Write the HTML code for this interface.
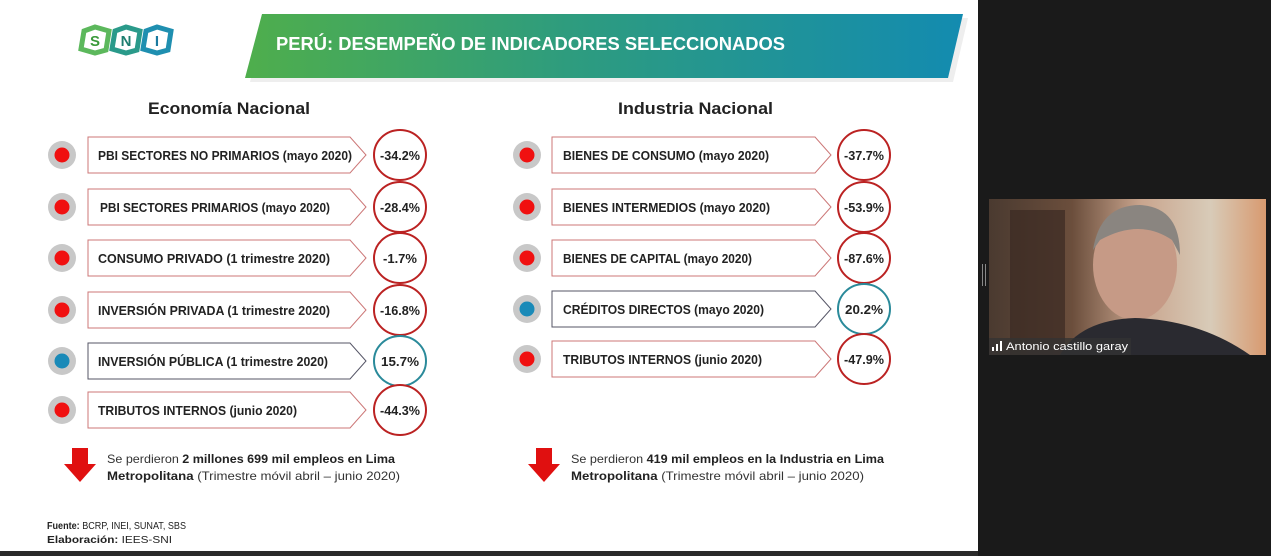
<!DOCTYPE html>
<html><head><meta charset="utf-8"><style>
html,body{margin:0;padding:0;width:1271px;height:556px;overflow:hidden;background:#fff}
svg{display:block}
text{font-family:"Liberation Sans",sans-serif}
</style></head><body>
<svg width="1271" height="556" viewBox="0 0 1271 556" xmlns="http://www.w3.org/2000/svg">
<defs>
<linearGradient id="bn" x1="0" x2="1" y1="0" y2="0">
<stop offset="0" stop-color="#4fae4c"/><stop offset="0.45" stop-color="#2e9c7e"/><stop offset="1" stop-color="#138bb0"/></linearGradient>
<linearGradient id="vid" x1="0" x2="1" y1="0" y2="0">
<stop offset="0" stop-color="#4a3a30"/><stop offset="0.3" stop-color="#6b4e3c"/><stop offset="0.55" stop-color="#c9a58e"/><stop offset="0.8" stop-color="#d8cbb8"/><stop offset="1" stop-color="#d89a70"/></linearGradient>
</defs>
<rect width="978" height="556" fill="#fff"/>
<rect x="978" width="293" height="556" fill="#1a1a1a"/>
<rect x="0" y="551" width="978" height="5" fill="#2a2a2a"/>
<!-- logo -->
<g fill="none" stroke-width="5">
<path d="M84 31 L95 27 L109 31 L106 50 L95 53 L81 49 Z" stroke="#5cb85c"/>
<path d="M115 31 L126 27 L140 31 L137 50 L126 53 L112 49 Z" stroke="#2a9a8a"/>
<path d="M146 31 L157 27 L171 31 L168 50 L157 53 L143 49 Z" stroke="#1f8fb0"/>
</g>
<text x="95" y="46" font-size="15" font-weight="bold" fill="#3a9a3a" text-anchor="middle">S</text>
<text x="126" y="46" font-size="15" font-weight="bold" fill="#1e7e70" text-anchor="middle">N</text>
<text x="157" y="46" font-size="15" font-weight="bold" fill="#1a7aa0" text-anchor="middle">I</text>
<!-- banner -->
<polygon points="250,82 953,82 968,18 266,18" fill="#eee"/>
<polygon points="245,78 948,78 963,14 262,14" fill="url(#bn)"/>
<text x="276" y="50" font-size="18" font-weight="bold" fill="#fff" textLength="509" lengthAdjust="spacingAndGlyphs">PERÚ: DESEMPEÑO DE INDICADORES SELECCIONADOS</text>
<text x="148" y="114" font-size="17" font-weight="bold" fill="#222" textLength="162" lengthAdjust="spacingAndGlyphs">Economía Nacional</text>
<text x="618" y="114" font-size="17" font-weight="bold" fill="#222" textLength="155" lengthAdjust="spacingAndGlyphs">Industria Nacional</text>
<g font-weight="bold" fill="#222">
<circle cx="62" cy="155" r="14" fill="#c8c8c8"/><circle cx="62" cy="155" r="7.5" fill="#f01010"/>
<polygon points="88,137 350,137 366,155 350,173 88,173" fill="#fff" stroke="#c77" stroke-width="1"/>
<text x="98" y="160" font-size="12.5" textLength="254" lengthAdjust="spacingAndGlyphs">PBI SECTORES NO PRIMARIOS (mayo 2020)</text>
<ellipse cx="400" cy="155" rx="26" ry="25" fill="#fff" stroke="#b22" stroke-width="2"/><text x="400" y="160" font-size="13" text-anchor="middle" textLength="40" lengthAdjust="spacingAndGlyphs">-34.2%</text>

<circle cx="62" cy="207" r="14" fill="#c8c8c8"/><circle cx="62" cy="207" r="7.5" fill="#f01010"/>
<polygon points="88,189 350,189 366,207 350,225 88,225" fill="#fff" stroke="#c77" stroke-width="1"/>
<text x="100" y="212" font-size="12.5" textLength="230" lengthAdjust="spacingAndGlyphs">PBI SECTORES PRIMARIOS (mayo 2020)</text>
<ellipse cx="400" cy="207" rx="26" ry="25" fill="#fff" stroke="#b22" stroke-width="2"/><text x="400" y="212" font-size="13" text-anchor="middle" textLength="40" lengthAdjust="spacingAndGlyphs">-28.4%</text>

<circle cx="62" cy="258" r="14" fill="#c8c8c8"/><circle cx="62" cy="258" r="7.5" fill="#f01010"/>
<polygon points="88,240 350,240 366,258 350,276 88,276" fill="#fff" stroke="#c77" stroke-width="1"/>
<text x="98" y="263" font-size="12.5" textLength="232" lengthAdjust="spacingAndGlyphs">CONSUMO PRIVADO (1 trimestre 2020)</text>
<ellipse cx="400" cy="258" rx="26" ry="25" fill="#fff" stroke="#b22" stroke-width="2"/><text x="400" y="263" font-size="13" text-anchor="middle">-1.7%</text>

<circle cx="62" cy="310" r="14" fill="#c8c8c8"/><circle cx="62" cy="310" r="7.5" fill="#f01010"/>
<polygon points="88,292 350,292 366,310 350,328 88,328" fill="#fff" stroke="#c77" stroke-width="1"/>
<text x="98" y="315" font-size="12.5" textLength="232" lengthAdjust="spacingAndGlyphs">INVERSIÓN PRIVADA (1 trimestre 2020)</text>
<ellipse cx="400" cy="310" rx="26" ry="25" fill="#fff" stroke="#b22" stroke-width="2"/><text x="400" y="315" font-size="13" text-anchor="middle" textLength="40" lengthAdjust="spacingAndGlyphs">-16.8%</text>

<circle cx="62" cy="361" r="14" fill="#c8c8c8"/><circle cx="62" cy="361" r="7.5" fill="#1a8ab8"/>
<polygon points="88,343 350,343 366,361 350,379 88,379" fill="#fff" stroke="#556" stroke-width="1"/>
<text x="98" y="366" font-size="12.5" textLength="230" lengthAdjust="spacingAndGlyphs">INVERSIÓN PÚBLICA (1 trimestre 2020)</text>
<ellipse cx="400" cy="361" rx="26" ry="25" fill="#fff" stroke="#2a8a9a" stroke-width="2"/><text x="400" y="366" font-size="13" text-anchor="middle" textLength="38" lengthAdjust="spacingAndGlyphs">15.7%</text>

<circle cx="62" cy="410" r="14" fill="#c8c8c8"/><circle cx="62" cy="410" r="7.5" fill="#f01010"/>
<polygon points="88,392 350,392 366,410 350,428 88,428" fill="#fff" stroke="#c77" stroke-width="1"/>
<text x="98" y="415" font-size="12.5" textLength="199" lengthAdjust="spacingAndGlyphs">TRIBUTOS INTERNOS (junio 2020)</text>
<ellipse cx="400" cy="410" rx="26" ry="25" fill="#fff" stroke="#b22" stroke-width="2"/><text x="400" y="415" font-size="13" text-anchor="middle" textLength="40" lengthAdjust="spacingAndGlyphs">-44.3%</text>

<circle cx="527" cy="155" r="14" fill="#c8c8c8"/><circle cx="527" cy="155" r="7.5" fill="#f01010"/>
<polygon points="552,137 815,137 831,155 815,173 552,173" fill="#fff" stroke="#c77" stroke-width="1"/>
<text x="563" y="160" font-size="12.5" textLength="206" lengthAdjust="spacingAndGlyphs">BIENES DE CONSUMO (mayo 2020)</text>
<ellipse cx="864" cy="155" rx="26" ry="25" fill="#fff" stroke="#b22" stroke-width="2"/><text x="864" y="160" font-size="13" text-anchor="middle" textLength="40" lengthAdjust="spacingAndGlyphs">-37.7%</text>

<circle cx="527" cy="207" r="14" fill="#c8c8c8"/><circle cx="527" cy="207" r="7.5" fill="#f01010"/>
<polygon points="552,189 815,189 831,207 815,225 552,225" fill="#fff" stroke="#c77" stroke-width="1"/>
<text x="563" y="212" font-size="12.5" textLength="207" lengthAdjust="spacingAndGlyphs">BIENES INTERMEDIOS (mayo 2020)</text>
<ellipse cx="864" cy="207" rx="26" ry="25" fill="#fff" stroke="#b22" stroke-width="2"/><text x="864" y="212" font-size="13" text-anchor="middle" textLength="40" lengthAdjust="spacingAndGlyphs">-53.9%</text>

<circle cx="527" cy="258" r="14" fill="#c8c8c8"/><circle cx="527" cy="258" r="7.5" fill="#f01010"/>
<polygon points="552,240 815,240 831,258 815,276 552,276" fill="#fff" stroke="#c77" stroke-width="1"/>
<text x="563" y="263" font-size="12.5" textLength="189" lengthAdjust="spacingAndGlyphs">BIENES DE CAPITAL (mayo 2020)</text>
<ellipse cx="864" cy="258" rx="26" ry="25" fill="#fff" stroke="#b22" stroke-width="2"/><text x="864" y="263" font-size="13" text-anchor="middle" textLength="40" lengthAdjust="spacingAndGlyphs">-87.6%</text>

<circle cx="527" cy="309" r="14" fill="#c8c8c8"/><circle cx="527" cy="309" r="7.5" fill="#1a8ab8"/>
<polygon points="552,291 815,291 831,309 815,327 552,327" fill="#fff" stroke="#556" stroke-width="1"/>
<text x="563" y="314" font-size="12.5" textLength="201" lengthAdjust="spacingAndGlyphs">CRÉDITOS DIRECTOS (mayo  2020)</text>
<ellipse cx="864" cy="309" rx="26" ry="25" fill="#fff" stroke="#2a8a9a" stroke-width="2"/><text x="864" y="314" font-size="13" text-anchor="middle" textLength="38" lengthAdjust="spacingAndGlyphs">20.2%</text>

<circle cx="527" cy="359" r="14" fill="#c8c8c8"/><circle cx="527" cy="359" r="7.5" fill="#f01010"/>
<polygon points="552,341 815,341 831,359 815,377 552,377" fill="#fff" stroke="#c77" stroke-width="1"/>
<text x="563" y="364" font-size="12.5" textLength="199" lengthAdjust="spacingAndGlyphs">TRIBUTOS INTERNOS (junio 2020)</text>
<ellipse cx="864" cy="359" rx="26" ry="25" fill="#fff" stroke="#b22" stroke-width="2"/><text x="864" y="364" font-size="13" text-anchor="middle" textLength="40" lengthAdjust="spacingAndGlyphs">-47.9%</text>
</g>
<!-- arrows -->
<polygon points="72,448 88,448 88,464 96,464 80,482 64,464 72,464" fill="#e01010"/>
<polygon points="536,448 552,448 552,464 560,464 544,482 528,464 536,464" fill="#e01010"/>
<g font-size="12" fill="#333">
<text x="107" y="463" textLength="288" lengthAdjust="spacingAndGlyphs">Se perdieron <tspan font-weight="bold" fill="#222">2 millones 699 mil empleos en Lima</tspan></text>
<text x="107" y="480" textLength="293" lengthAdjust="spacingAndGlyphs"><tspan font-weight="bold" fill="#222">Metropolitana</tspan> (Trimestre móvil abril – junio 2020)</text>
<text x="571" y="463" textLength="313" lengthAdjust="spacingAndGlyphs">Se perdieron <tspan font-weight="bold" fill="#222">419 mil empleos en la Industria en Lima</tspan></text>
<text x="571" y="480" textLength="293" lengthAdjust="spacingAndGlyphs"><tspan font-weight="bold" fill="#222">Metropolitana</tspan> (Trimestre móvil abril – junio 2020)</text>
</g>
<g font-size="10" fill="#222">
<text x="47" y="529" textLength="139" lengthAdjust="spacingAndGlyphs"><tspan font-weight="bold">Fuente:</tspan> BCRP, INEI, SUNAT, SBS</text>
<text x="47" y="543" textLength="125" lengthAdjust="spacingAndGlyphs"><tspan font-weight="bold">Elaboración:</tspan> IEES-SNI</text>
</g>
<!-- video -->
<rect x="989" y="199" width="277" height="156" fill="url(#vid)"/>
<rect x="1010" y="210" width="55" height="145" fill="#3a2a22" opacity="0.7"/>
<ellipse cx="1135" cy="265" rx="42" ry="55" fill="#c69a86"/>
<path d="M1093 250 Q1100 205 1140 205 Q1180 207 1180 255 L1172 240 Q1140 218 1100 240 Z" fill="#8a8580"/>
<path d="M1060 355 Q1080 320 1135 318 Q1200 320 1250 355 Z" fill="#2a2a30"/>
<rect x="989" y="338" width="142" height="17" fill="#333" opacity="0.75"/>
<g fill="#fff"><rect x="992" y="347" width="2" height="4"/><rect x="996" y="344" width="2" height="7"/><rect x="1000" y="341" width="2" height="10"/></g>
<text x="1006" y="350" font-size="11" fill="#fff" font-family="DejaVu Sans,sans-serif" textLength="122" lengthAdjust="spacingAndGlyphs">Antonio castillo garay</text>
<rect x="982" y="264" width="1" height="22" fill="#888"/><rect x="985" y="264" width="1" height="22" fill="#888"/>
</svg>
</body></html>
